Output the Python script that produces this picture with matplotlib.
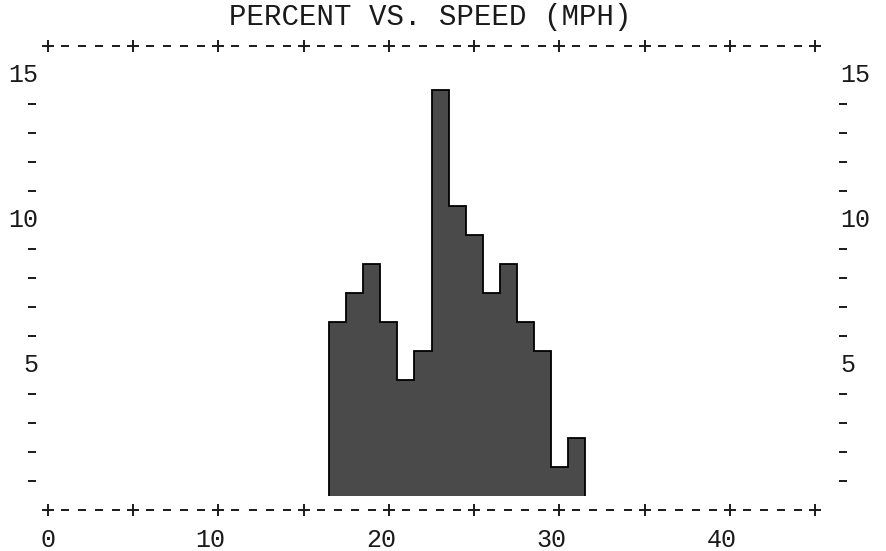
import numpy as np
import matplotlib
matplotlib.use('Agg')
import matplotlib.pyplot as plt
import matplotlib.transforms as mtransforms

# histogram: percent of vehicles per 1-mph speed class
speeds = [17, 18, 19, 20, 21, 22, 23, 24, 25, 26, 27, 28, 29, 30, 31]
percent = [6, 7, 8, 6, 4, 5, 14, 10, 9, 7, 8, 6, 5, 1, 2]

x_ticks = [0, 5, 10, 15, 20, 25, 30, 35, 40, 45]
x_labels = ['0', '', '10', '', '20', '', '30', '', '40', '']
y_labels = [5, 10, 15]

title = 'PERCENT VS. SPEED (MPH)'
mono = 'Liberation Mono'
ink = '#1a1a1a'

fig = plt.figure(figsize=(8.86, 5.51), dpi=100)
ax = fig.add_axes([48 / 886, 41 / 551, 767 / 886, 464 / 551])
ax.set_xlim(0, 45)
ax.set_ylim(0, 16)
ax.axis('off')

# bars are printed as character cells, so they start half a row above the axis
speeds_arr = np.array(speeds)
edges = np.append(speeds_arr - 0.5, speeds_arr[-1] + 0.5)
tops = np.array(percent) + 0.5
ax.stairs(tops, edges, baseline=0.5, fill=True, color='#4a4a4a', zorder=2)
ax.stairs(tops, edges, baseline=0.5, color='black', linewidth=1.3, zorder=3)

# typewriter style frame: "+----+----+" top and bottom
minor_x = [v for v in range(0, 46) if v % 5 != 0]
for yv in (0, 16):
    ax.plot(x_ticks, [yv] * len(x_ticks), linestyle='none', marker='+',
            markersize=8, markeredgewidth=1.4, color=ink, clip_on=False)
    ax.plot(minor_x, [yv] * len(minor_x), linestyle='none', marker='_',
            markersize=6, markeredgewidth=1.4, color=ink, clip_on=False)

# y axis dashes on both sides
minor_y = [v for v in range(1, 15) if v % 5 != 0]
ytrans = ax.get_yaxis_transform()
ax.plot([-16 / 767] * len(minor_y), minor_y, linestyle='none', marker='_',
        markersize=6, markeredgewidth=1.4, color=ink, transform=ytrans, clip_on=False)
ax.plot([1 + 28 / 767] * len(minor_y), minor_y, linestyle='none', marker='_',
        markersize=6, markeredgewidth=1.4, color=ink, transform=ytrans, clip_on=False)

for v in y_labels:
    ax.text(-10 / 767, v, str(v), transform=ytrans, ha='right', va='center',
            fontsize=18, family=mono, color=ink)
    ax.text(1 + 25 / 767, v, str(v), transform=ytrans, ha='left', va='center',
            fontsize=18, family=mono, color=ink)

# x labels: last digit sits under the "+"
xtrans = mtransforms.offset_copy(ax.get_xaxis_transform(), fig=fig, x=7, y=0, units='dots')
for xv, lab in zip(x_ticks, x_labels):
    if lab:
        ax.text(xv, -30 / 464, lab, transform=xtrans, ha='right', va='center',
                fontsize=18, family=mono, color=ink)

fig.text(430 / 886, 1 - 17 / 551, title, ha='center', va='center',
         fontsize=21, family=mono, color=ink)

fig.savefig('out.png', dpi=100, facecolor='white')
